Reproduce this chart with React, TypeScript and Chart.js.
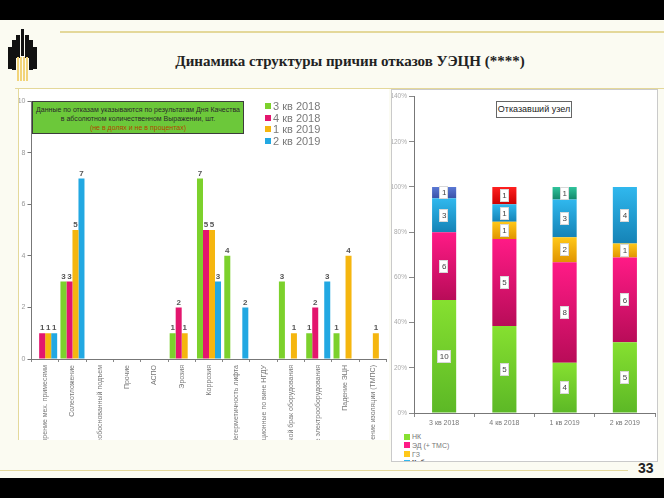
import React, { useEffect, useRef } from "react";
import { Chart, registerables } from "chart.js";

Chart.register(...registerables);

const FONT = "'Liberation Sans', Arial, sans-serif";

// ---- Left chart data (absolute counts by cause) ----
const causeLabels = [
  "Засорение мех. примесями",
  "Солеотложение",
  "Необоснованный подъем",
  "Прочие",
  "АСПО",
  "Эрозия",
  "Коррозия",
  "Негерметичность лифта",
  "Организационные по вине НГДУ",
  "Заводской брак оборудования",
  "Влияние электрооборудования",
  "Падение ЭЦН",
  "Падение изоляции (ТМПС)",
];
const quarterNames = ["3 кв 2018", "4 кв 2018", "1 кв 2019", "2 кв 2019"];
const q3_2018 = [0, 3, 0, 0, 0, 1, 7, 4, 0, 3, 1, 1, 0];
const q4_2018 = [1, 3, 0, 0, 0, 2, 5, 0, 0, 0, 2, 0, 0];
const q1_2019 = [1, 5, 0, 0, 0, 1, 5, 0, 0, 1, 0, 4, 1];
const q2_2019 = [1, 7, 0, 0, 0, 0, 3, 2, 0, 0, 3, 0, 0];
const quarterColors = ["#7cd12c", "#e3166e", "#f5b60f", "#22a8e2"];
const leftYTicks = { min: 0, max: 10, step: 2 };

// ---- Right chart data (failed unit, counts -> 100% stacked) ----
const unitQuarterLabels = ["3 кв 2018", "4 кв 2018", "1 кв 2019", "2 кв 2019"];
const unitNames = ["НК", "ЭД (+ ТМС)", "ГЗ", "Кабельная линия", "Прочее 1", "Прочее 2", "Прочее 3"];
const unitNK = [10, 5, 4, 5];
const unitED = [6, 5, 8, 6];
const unitGZ = [0, 1, 2, 1];
const unitKL = [3, 1, 3, 4];
const unitOther1 = [1, 0, 0, 0];
const unitOther2 = [0, 1, 0, 0];
const unitOther3 = [0, 0, 1, 0];
const unitLight = ["#86e030", "#ff1a86", "#ffc81a", "#30b8ee", "#5a78d4", "#ff2020", "#30c49c"];
const unitDark = ["#5cb826", "#b80c58", "#e09400", "#1583b6", "#3a52a8", "#cc0000", "#12886a"];
const rightYTicks = { min: 0, max: 140, step: 20 };

const unitCounts = [unitNK, unitED, unitGZ, unitKL, unitOther1, unitOther2, unitOther3];
const unitTotals = unitQuarterLabels.map((_, i) => unitCounts.reduce((s, a) => s + a[i], 0));
const unitPct = unitCounts.map((a) => a.map((v, i) => (v / unitTotals[i]) * 100));

const leftValueLabels = {
  id: "leftValueLabels",
  afterDatasetsDraw(chart: any) {
    const ctx = chart.ctx;
    ctx.save();
    ctx.font = `bold 8px ${FONT}`;
    ctx.fillStyle = "#555";
    ctx.textAlign = "center";
    ctx.textBaseline = "bottom";
    chart.data.datasets.forEach((ds: any, di: number) => {
      const meta = chart.getDatasetMeta(di);
      meta.data.forEach((el: any, i: number) => {
        const v = ds.data[i];
        if (!v) return;
        ctx.fillText(String(v), el.x, el.y - 1);
      });
    });
    ctx.restore();
  },
};

const rightValueLabels = {
  id: "rightValueLabels",
  afterDatasetsDraw(chart: any) {
    const ctx = chart.ctx;
    ctx.save();
    ctx.font = `8px ${FONT}`;
    ctx.textAlign = "center";
    ctx.textBaseline = "middle";
    chart.data.datasets.forEach((_ds: any, di: number) => {
      const meta = chart.getDatasetMeta(di);
      meta.data.forEach((el: any, i: number) => {
        const v = unitCounts[di][i];
        if (!v) return;
        const cy = (el.y + el.base) / 2;
        const t = String(v);
        const w = ctx.measureText(t).width + 5;
        const h = 13;
        ctx.fillStyle = "#ffffff";
        ctx.fillRect(Math.round(el.x - w / 2), Math.round(cy - h / 2), Math.round(w), h);
        ctx.strokeStyle = "#d8d8d8";
        ctx.lineWidth = 1;
        ctx.strokeRect(Math.round(el.x - w / 2) + 0.5, Math.round(cy - h / 2) + 0.5, Math.round(w) - 1, h - 1);
        ctx.fillStyle = "#444";
        ctx.fillText(t, el.x, cy + 0.5);
      });
    });
    ctx.restore();
  },
};

function makeGradient(di: number) {
  return (c: any) => {
    const chart = c.chart;
    const y = chart.scales && chart.scales.y;
    if (!chart.chartArea || !y || c.dataIndex === undefined) return unitDark[di];
    const i = c.dataIndex;
    let start = 0;
    for (let d = 0; d < di; d++) start += unitPct[d][i];
    const end = start + unitPct[di][i];
    const top = y.getPixelForValue(end);
    const bot = y.getPixelForValue(start);
    if (!(bot > top + 0.5)) return unitDark[di];
    const g = chart.ctx.createLinearGradient(0, top, 0, bot);
    g.addColorStop(0, unitLight[di]);
    g.addColorStop(1, unitDark[di]);
    return g;
  };
}

function LeftChart() {
  const ref = useRef<HTMLCanvasElement | null>(null);
  useEffect(() => {
    if (!ref.current) return;
    const series = [q3_2018, q4_2018, q1_2019, q2_2019];
    const chart = new Chart(ref.current, {
      type: "bar",
      data: {
        labels: causeLabels,
        datasets: series.map((d, k) => ({
          label: quarterNames[k],
          data: d,
          backgroundColor: quarterColors[k],
          borderWidth: 0,
          categoryPercentage: 0.88,
          barPercentage: 1,
        })),
      },
      options: {
        animation: false,
        responsive: false,
        maintainAspectRatio: false,
        layout: { padding: { left: 0, right: 2.5, top: 12, bottom: 0 } },
        plugins: { legend: { display: false }, tooltip: { enabled: false }, title: { display: false } },
        scales: {
          x: {
            grid: { display: true, drawOnChartArea: false, offset: true, tickLength: 3, color: "#888" },
            border: { color: "#777" },
            ticks: { autoSkip: false, minRotation: 90, maxRotation: 90, font: { size: 7, family: FONT }, color: "#777", padding: 3 },
            afterFit: (s: any) => { s.height = 150; },
          },
          y: {
            min: leftYTicks.min,
            max: leftYTicks.max,
            ticks: { stepSize: leftYTicks.step, font: { size: 7, family: FONT }, color: "#999", padding: 2 },
            grid: { drawOnChartArea: false, tickLength: 4, color: "#777" },
            border: { color: "#777" },
            afterFit: (s: any) => { s.width = 23.5; },
          },
        },
      },
      plugins: [leftValueLabels],
    } as any);
    return () => chart.destroy();
  }, []);
  return <canvas ref={ref} width={381} height={420} style={{ position: "absolute", left: -11, top: 0, width: 381, height: 420 }} />;
}

function RightChart() {
  const ref = useRef<HTMLCanvasElement | null>(null);
  useEffect(() => {
    if (!ref.current) return;
    const chart = new Chart(ref.current, {
      type: "bar",
      data: {
        labels: unitQuarterLabels,
        datasets: unitPct.map((d, k) => ({
          label: unitNames[k],
          data: d,
          backgroundColor: makeGradient(k),
          borderWidth: 0,
          categoryPercentage: 0.4,
          barPercentage: 1,
        })),
      },
      options: {
        animation: false,
        responsive: false,
        maintainAspectRatio: false,
        layout: { padding: { left: 0, right: 2, top: 6.5, bottom: 0 } },
        plugins: { legend: { display: false }, tooltip: { enabled: false } },
        scales: {
          x: {
            stacked: true,
            grid: { display: true, drawOnChartArea: false, offset: true, tickLength: 4, color: "#888" },
            border: { color: "#777" },
            ticks: { font: { size: 7, family: FONT }, color: "#777", padding: 2 },
            afterFit: (s: any) => { s.height = 15; },
          },
          y: {
            stacked: true,
            min: rightYTicks.min,
            max: rightYTicks.max,
            ticks: { stepSize: rightYTicks.step, font: { size: 6.5, family: FONT }, color: "#aaa", padding: 2, callback: (v: any) => `${v}%` },
            grid: { drawOnChartArea: false, tickLength: 5, color: "#888" },
            border: { color: "#777" },
            afterFit: (s: any) => { s.width = 22; },
          },
        },
      },
      plugins: [rightValueLabels],
    } as any);
    return () => chart.destroy();
  }, []);
  return <canvas ref={ref} width={265} height={338} style={{ position: "absolute", left: 0, top: 0, width: 265, height: 338 }} />;
}

function Logo() {
  const bars = [
    { x: 8, top: 47, h: 22 },
    { x: 12, top: 40, h: 30 },
    { x: 16, top: 35, h: 23 },
    { x: 20.5, top: 29, h: 27 },
    { x: 25, top: 35, h: 23 },
    { x: 29, top: 40, h: 30 },
    { x: 33, top: 47, h: 22 },
  ];
  return (
    <>
      {bars.map((b, i) => (
        <div key={i} style={{ position: "absolute", left: b.x, top: b.top, width: 3.5, height: b.h, background: "#111" }} />
      ))}
      {[16.5, 19.5, 22.5, 25.5].map((x, i) => (
        <div key={"y" + i} style={{ position: "absolute", left: x, top: 57, width: 2.5, height: 24, background: "#f2d47a" }} />
      ))}
    </>
  );
}

export default function App() {
  const abs = (o: any) => ({ position: "absolute" as const, ...o });
  return (
    <div style={abs({ left: 0, top: 0, width: 664, height: 498, background: "#fbfbf2", overflow: "hidden", fontFamily: FONT })}>
      <div style={abs({ left: 0, top: 0, width: 664, height: 20, background: "#000" })} />
      <div style={abs({ left: 0, top: 478, width: 664, height: 20, background: "#000" })} />
      <div style={abs({ left: 60, top: 31, width: 604, height: 1.5, background: "#e4d89a" })} />
      <div style={abs({ left: 15, top: 87.5, width: 649, height: 1.5, background: "#e4d89a" })} />
      <Logo />
      <div style={abs({ left: 60, top: 53, width: 580, textAlign: "center", fontFamily: "'Liberation Serif', 'Times New Roman', serif", fontWeight: "bold", fontSize: 15, color: "#222" })}>
        Динамика структуры причин отказов УЭЦН (****)
      </div>

      {/* Left panel */}
      <div style={abs({ left: 18, top: 89, width: 370, height: 351, background: "#fff", borderLeft: "1px solid #e4d99c", overflow: "hidden" })}>
        <LeftChart />
        <div style={abs({ left: 13, top: 12, width: 212, height: 33, boxSizing: "border-box", background: "#6cc83a", border: "1px solid #3c3c3c", textAlign: "center", fontSize: 7, lineHeight: "9px", color: "#2a2a2a", paddingTop: 2.5 })}>
          <div>Данные по отказам указываются по результатам Дня Качества</div>
          <div>в абсолютном количественном Выражении, шт.</div>
          <div style={{ color: "#b04800" }}>(не в долях и не в процентах)</div>
        </div>
        {quarterNames.map((n, k) => (
          <div key={n} style={abs({ left: 246, top: 11 + k * 11.7, height: 12, whiteSpace: "nowrap", fontSize: 11, lineHeight: "12px", color: "#7a7a7a" })}>
            <span style={{ display: "inline-block", width: 6, height: 6, background: quarterColors[k], marginRight: 2, verticalAlign: "1px" }} />
            {n}
          </div>
        ))}
      </div>

      {/* Right panel */}
      <div style={abs({ left: 391, top: 89, width: 265, height: 371, background: "#fff", border: "1px solid #cacaca", overflow: "hidden" })}>
        <RightChart />
        <div style={abs({ left: 104, top: 11, width: 76, height: 17, boxSizing: "border-box", border: "1px solid #666", background: "#fff", fontSize: 9, lineHeight: "15px", textAlign: "center", color: "#222" })}>
          Отказавший узел
        </div>
        {unitNames.slice(0, 4).map((n, k) => (
          <div key={n} style={abs({ left: 12, top: 342 + k * 8.8, height: 9, whiteSpace: "nowrap", fontSize: 7, lineHeight: "9px", color: k === 3 ? "#333" : "#777", fontWeight: k === 3 ? "bold" : "normal" })}>
            <span style={{ display: "inline-block", width: 6, height: 6, background: unitLight[k], marginRight: 2, verticalAlign: "-0.5px" }} />
            {n}
          </div>
        ))}
      </div>

      <div style={abs({ left: 0, top: 469.5, width: 628, height: 1.5, background: "#e4d89a" })} />
      <div style={abs({ left: 638, top: 460, fontSize: 14, fontWeight: "bold", color: "#222" })}>33</div>
    </div>
  );
}
